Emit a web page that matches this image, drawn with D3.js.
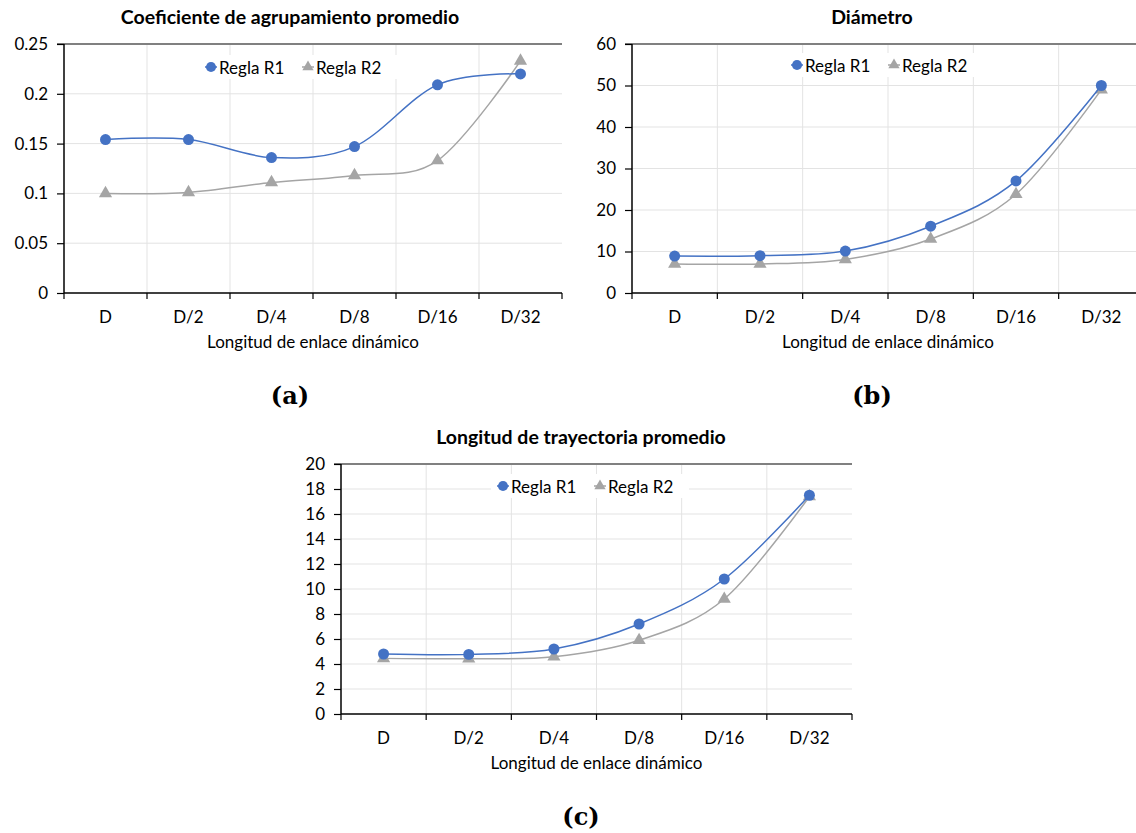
<!DOCTYPE html>
<html>
<head>
<meta charset="utf-8">
<script src="https://cdn.jsdelivr.net/npm/d3@7"></script>
<style>
  body { margin: 0; background: #fff; }
  svg text { font-family: Lato, "Open Sans", sans-serif; fill: #000; }
  .caption { font-family: "DejaVu Serif", "Liberation Serif", serif !important; font-weight: bold; }
</style>
</head>
<body>
<script>
// Data
var categories = ["D", "D/2", "D/4", "D/8", "D/16", "D/32"];
var seriesNames = ["Regla R1", "Regla R2"];

var clusteringR1 = [0.154, 0.154, 0.136, 0.147, 0.209, 0.220];
var clusteringR2 = [0.100, 0.101, 0.111, 0.118, 0.133, 0.233];
var clusteringTicks = [0, 0.05, 0.1, 0.15, 0.2, 0.25];

var diameterR1 = [8.9, 9.0, 10.1, 16.1, 27.0, 50.0];
var diameterR2 = [7.0, 7.0, 8.1, 13.0, 23.8, 49.0];
var diameterTicks = [0, 10, 20, 30, 40, 50, 60];

var pathR1 = [4.8, 4.77, 5.2, 7.2, 10.8, 17.5];
var pathR2 = [4.45, 4.42, 4.58, 5.9, 9.2, 17.4];
var pathTicks = [0, 2, 4, 6, 8, 10, 12, 14, 16, 18, 20];

var BLUE = "#4472c4";
var GRAY = "#a5a5a5";
var FONT = "17px";

var svg = d3.select("body").append("svg")
    .attr("width", 1136)
    .attr("height", 833);

function drawChart(c) {
    var g = svg.append("g");
    var x = d3.scaleBand().domain(categories).range([c.x0, c.x1]);
    var y = d3.scaleLinear().domain([0, c.ticks[c.ticks.length - 1]]).range([c.yBot, c.yTop]);

    // horizontal gridlines
    g.selectAll(".hgrid")
        .data(c.ticks.slice(1, -1))
        .enter().append("line")
        .attr("x1", c.x0).attr("x2", c.x1)
        .attr("y1", function(d) { return y(d); })
        .attr("y2", function(d) { return y(d); })
        .attr("stroke", "#e3e3e3").attr("stroke-width", 1);

    // vertical gridlines at category boundaries
    g.selectAll(".vgrid")
        .data(categories.slice(1))
        .enter().append("line")
        .attr("x1", function(d) { return x(d); })
        .attr("x2", function(d) { return x(d); })
        .attr("y1", c.yTop).attr("y2", c.yBot)
        .attr("stroke", "#e3e3e3").attr("stroke-width", 1);

    // top border line
    g.append("line")
        .attr("x1", c.x0 - 7).attr("x2", c.x1)
        .attr("y1", c.yTop).attr("y2", c.yTop)
        .attr("stroke", "#808080").attr("stroke-width", 2);

    // y axis
    var yAxis = g.append("g")
        .attr("transform", "translate(" + c.x0 + ",0)")
        .call(d3.axisLeft(y).tickValues(c.ticks).tickSize(7).tickPadding(9)
            .tickFormat(function(d) { return String(d); }));
    yAxis.select(".domain").attr("stroke", "#000").attr("stroke-width", 1.5)
        .attr("d", "M0," + c.yTop + "V" + c.yBot);
    yAxis.selectAll(".tick line").attr("stroke", "#000").attr("stroke-width", 1.2);
    yAxis.selectAll(".tick text").style("font-size", FONT).attr("fill", "#000");

    // x axis
    var xAxis = g.append("g")
        .attr("transform", "translate(0," + c.yBot + ")")
        .call(d3.axisBottom(x).tickSize(0).tickPadding(18));
    xAxis.select(".domain").attr("stroke", "#000").attr("stroke-width", 1.5)
        .attr("d", "M" + c.x0 + ",0H" + c.x1);
    xAxis.selectAll(".tick text").style("font-size", FONT).attr("fill", "#000");
    g.selectAll(".xtick")
        .data(categories.concat(["end"]))
        .enter().append("line")
        .attr("x1", function(d, i) { return c.x0 + i * x.step(); })
        .attr("x2", function(d, i) { return c.x0 + i * x.step(); })
        .attr("y1", c.yBot).attr("y2", c.yBot + 6)
        .attr("stroke", "#000").attr("stroke-width", 1.2);

    // titles
    g.append("text")
        .attr("x", c.titleX).attr("y", c.yTop - 28)
        .attr("text-anchor", "middle").attr("dominant-baseline", "central")
        .style("font-size", "19.5px").style("font-weight", "bold")
        .text(c.title);
    g.append("text")
        .attr("x", (c.x0 + c.x1) / 2).attr("y", c.yBot + 48)
        .attr("text-anchor", "middle").attr("dominant-baseline", "central")
        .style("font-size", FONT)
        .text("Longitud de enlace dinámico");
    g.append("text")
        .attr("class", "caption")
        .attr("x", c.titleX).attr("y", c.yBot + 102)
        .attr("text-anchor", "middle").attr("dominant-baseline", "central")
        .style("font-size", "24px")
        .text(c.caption);

    // legend (white box)
    var lg = g.append("g").attr("transform", "translate(" + c.legendX + "," + c.legendY + ")");
    lg.append("rect").attr("x", -6).attr("y", -12).attr("width", 198).attr("height", 24).attr("fill", "#fff");
    var legendItems = [{ name: seriesNames[0], color: BLUE, sym: d3.symbolCircle, size: 80 },
                       { name: seriesNames[1], color: GRAY, sym: d3.symbolTriangle, size: 55 }];
    legendItems.forEach(function(it, i) {
        var ox = i * 97;
        lg.append("line").attr("x1", ox).attr("x2", ox + 12).attr("y1", 0).attr("y2", 0)
            .attr("stroke", it.color).attr("stroke-width", 1.5);
        lg.append("path").attr("d", d3.symbol().type(it.sym).size(it.size))
            .attr("transform", "translate(" + (ox + 6) + ",0)").attr("fill", it.color);
        lg.append("text").attr("x", ox + 14).attr("y", 0).attr("dominant-baseline", "central")
            .style("font-size", FONT).text(it.name);
    });

    // series
    var line = d3.line()
        .x(function(d, i) { return x(categories[i]) + x.bandwidth() / 2; })
        .y(function(d) { return y(d); })
        .curve(d3.curveCardinal.tension(0));

    var series = [{ values: c.r2, color: GRAY, sym: d3.symbolTriangle, size: 75 },
                  { values: c.r1, color: BLUE, sym: d3.symbolCircle, size: 95 }];
    series.forEach(function(s) {
        g.append("path").datum(s.values)
            .attr("d", line).attr("fill", "none")
            .attr("stroke", s.color).attr("stroke-width", 1.5);
        g.selectAll(null).data(s.values).enter().append("path")
            .attr("d", d3.symbol().type(s.sym).size(s.size))
            .attr("transform", function(d, i) {
                return "translate(" + (x(categories[i]) + x.bandwidth() / 2) + "," + y(d) + ")";
            })
            .attr("fill", s.color);
    });
}

drawChart({ title: "Coeficiente de agrupamiento promedio", caption: "(a)", titleX: 290,
    x0: 64, x1: 562, yTop: 44, yBot: 293, ticks: clusteringTicks,
    r1: clusteringR1, r2: clusteringR2, legendX: 205, legendY: 67 });

drawChart({ title: "Diámetro", caption: "(b)", titleX: 872,
    x0: 632, x1: 1144, yTop: 44, yBot: 293, ticks: diameterTicks,
    r1: diameterR1, r2: diameterR2, legendX: 791, legendY: 65 });

drawChart({ title: "Longitud de trayectoria promedio", caption: "(c)", titleX: 581,
    x0: 341, x1: 852, yTop: 464, yBot: 714, ticks: pathTicks,
    r1: pathR1, r2: pathR2, legendX: 497, legendY: 486 });
</script>
</body>
</html>
